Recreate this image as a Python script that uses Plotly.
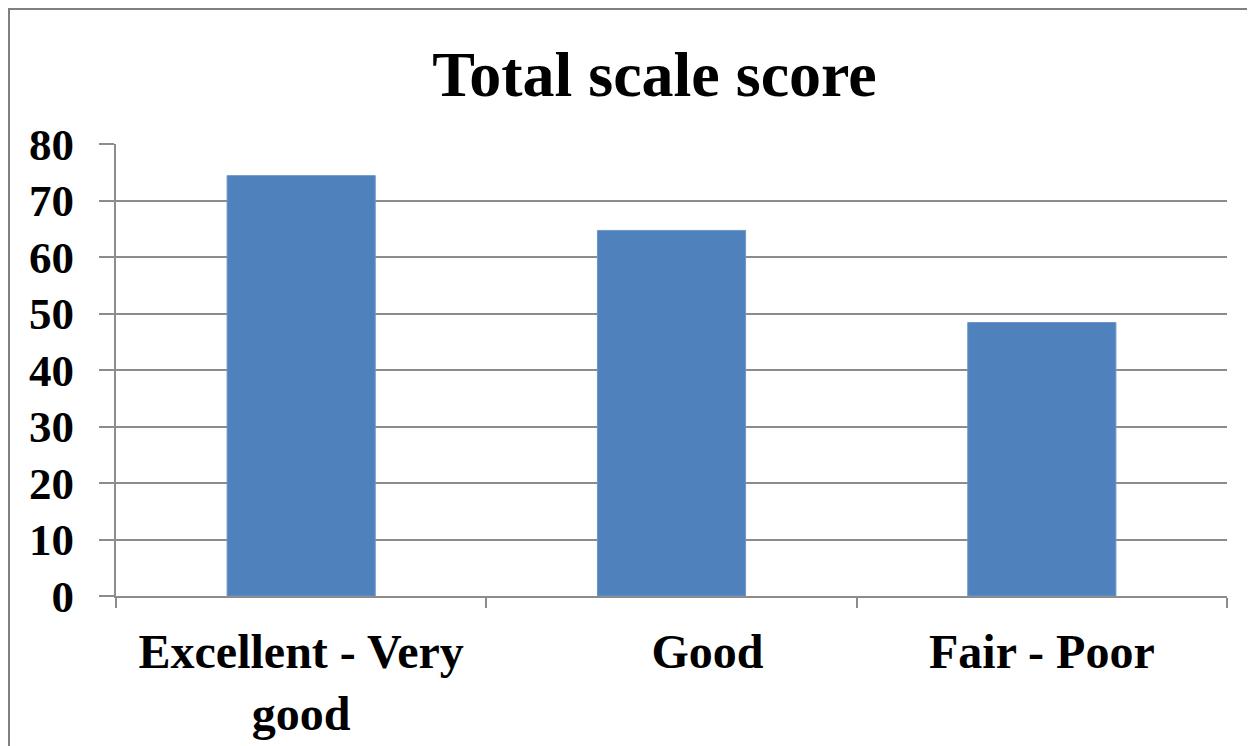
import plotly.graph_objects as go

categories = ["Excellent - Very<br>good", "Good", "Fair - Poor"]
tick_labels = ["Excellent - Very<br>good", "\u00a0" * 6 + "Good", "Fair - Poor"]
values = [74.4, 64.7, 48.4]
y_ticks = [0, 10, 20, 30, 40, 50, 60, 70, 80]
title_text = "Total scale score"

# the page body has an 8px margin, so figure coords = screen coords - 8
OFF = 8
W, H = 1255, 746
L, R, T, B = 116 - OFF, 36, 144 - OFF, 158
PW, PH = W - L - R, H - T - B

fig = go.Figure(go.Bar(
    x=categories, y=values,
    marker=dict(color="#4F81BD", line=dict(color="#6A96CC", width=1)),
    width=0.4,
))

font_family = "Liberation Serif"
fig.update_layout(
    width=W, height=H,
    margin=dict(l=L, r=R, t=T, b=B),
    paper_bgcolor="white", plot_bgcolor="white",
    showlegend=False,
    title=dict(text=title_text, x=(654.5 - OFF) / W, xanchor="center",
               y=1 - (74 - OFF) / H, yanchor="middle", yref="container",
               font=dict(family=font_family, size=64, color="black", weight="bold")),
    font=dict(family=font_family, color="black"),
)
fig.update_yaxes(
    range=[0, 80], tickvals=y_ticks,
    tickfont=dict(family=font_family, size=45, color="black", weight="bold"),
    showgrid=True, gridcolor="#8C8C8C", gridwidth=2,
    showline=True, linecolor="#8C8C8C", linewidth=2,
    ticks="outside", ticklen=15, tickcolor="#8C8C8C", tickwidth=2,
    ticklabelstandoff=16,
    zeroline=False,
)
fig.update_xaxes(
    tickvals=categories, ticktext=tick_labels,
    tickfont=dict(family=font_family, size=48, color="black", weight="bold"),
    showline=True, linecolor="#8C8C8C", linewidth=2,
    ticks="outside", ticklen=10, tickcolor="#8C8C8C", tickwidth=2,
    tickson="boundaries", ticklabelstandoff=12,
)
# outer chart border (top-left corner sits near the page edge)
fig.add_shape(type="rect", xref="paper", yref="paper",
              x0=(1 - L) / PW, x1=(W + 20 - L) / PW,
              y0=-(H + 20 - (H - B)) / PH, y1=1 + (T - 1) / PH,
              line=dict(color="#808080", width=2), layer="below")

fig.write_html("out.html")
